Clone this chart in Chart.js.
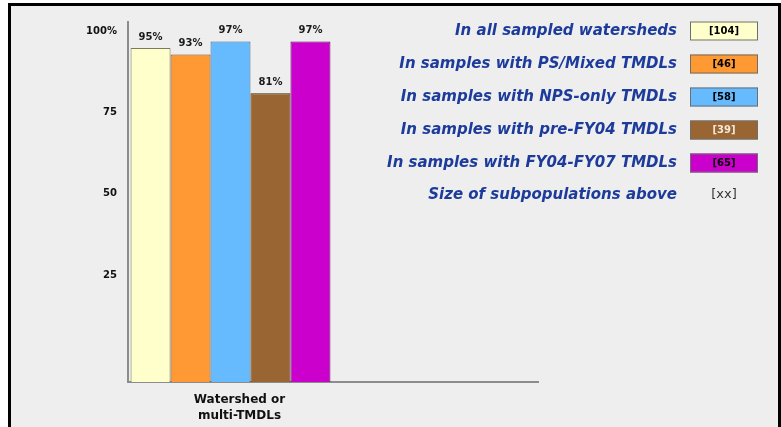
<!DOCTYPE html>
<html>
<head>
<meta charset="utf-8">
<script src="https://cdn.jsdelivr.net/npm/chart.js@4.4.1/dist/chart.umd.min.js"></script>
<style>
  html, body { margin: 0; padding: 0; background: #fff; }
  #wrap { width: 781px; height: 427px; }
</style>
</head>
<body>
<div id="wrap"><canvas id="chart" width="781" height="427"></canvas></div>
<script>
// chart values
const categories = [['Watershed or', 'multi-TMDLs'], ''];
const seriesNames = [
  'In all sampled watersheds',
  'In samples with PS/Mixed TMDLs',
  'In samples with NPS-only TMDLs',
  'In samples with pre-FY04 TMDLs',
  'In samples with FY04-FY07 TMDLs'
];
const percentValues = [95, 93, 97, 81, 97];
const sampleSizes = [104, 46, 58, 39, 65];
const yTicks = [25, 50, 75, 100];
const sizeNote = 'Size of subpopulations above';

const fillColors = ['#FFFFCC', '#FF9933', '#66BBFF', '#996633', '#CC00CC'];
const edgeColors = ['#7a7a60', '#7a4a18', '#35658a', '#3e280e', '#550055'];
const sizeTextColors = ['#000', '#000', '#000', '#f3e6d8', '#000'];

const FONT = "'DejaVu Sans', Verdana, sans-serif";

const datasets = seriesNames.map((name, i) => ({
  label: name,
  data: [percentValues[i], null],
  backgroundColor: fillColors[i],
  borderColor: edgeColors[i],
  borderWidth: 1,
  base: -8,
  barPercentage: 1.0,
  categoryPercentage: 0.975
}));

// page frame: white strip on top, gray panel with a thick black border
const framePlugin = {
  id: 'frame',
  beforeDraw(chart) {
    const ctx = chart.ctx;
    ctx.save();
    ctx.fillStyle = '#ffffff';
    ctx.fillRect(0, 0, chart.width, chart.height);
    ctx.fillStyle = '#eeeeee';
    ctx.fillRect(8, 3, chart.width - 8, chart.height - 3);
    ctx.fillStyle = '#000000';
    ctx.fillRect(8, 3, 3, chart.height - 3);
    ctx.fillRect(8, 3, chart.width - 8, 3);
    ctx.fillRect(chart.width - 3, 3, 3, chart.height - 3);
    ctx.restore();
  }
};

// percent labels above every bar
const valueLabels = {
  id: 'valueLabels',
  afterDatasetsDraw(chart) {
    const ctx = chart.ctx;
    ctx.save();
    ctx.font = 'bold 10px ' + FONT;
    ctx.fillStyle = '#1a1a1a';
    ctx.textAlign = 'center';
    ctx.textBaseline = 'bottom';
    chart.data.datasets.forEach((ds, i) => {
      const bar = chart.getDatasetMeta(i).data[0];
      ctx.fillText(ds.data[0] + '%', bar.x, bar.y - 6);
    });
    ctx.restore();
  }
};

// legend at the right: series name, then a coloured box with the sample size
const sideLegend = {
  id: 'sideLegend',
  afterDraw(chart) {
    const ctx = chart.ctx;
    const textRight = 677;
    const boxLeft = 690, boxW = 68, boxH = 19;
    const rowTop = 31, rowGap = 33;
    ctx.save();
    ctx.textBaseline = 'middle';
    chart.data.datasets.forEach((ds, i) => {
      const y = rowTop + i * rowGap;
      ctx.font = 'italic bold 15px ' + FONT;
      ctx.fillStyle = '#1c3b9b';
      ctx.textAlign = 'right';
      ctx.fillText(ds.label, textRight, y);

      ctx.fillStyle = ds.backgroundColor;
      ctx.fillRect(boxLeft, y - boxH / 2, boxW, boxH);
      ctx.strokeStyle = '#6e6e6e';
      ctx.lineWidth = 1;
      ctx.strokeRect(boxLeft + 0.5, y - boxH / 2 + 0.5, boxW - 1, boxH - 1);

      ctx.font = 'bold 10px ' + FONT;
      ctx.fillStyle = sizeTextColors[i];
      ctx.textAlign = 'center';
      ctx.fillText('[' + sampleSizes[i] + ']', boxLeft + boxW / 2, y);
    });
    const yLast = rowTop + seriesNames.length * rowGap - 1;
    ctx.font = 'italic bold 15px ' + FONT;
    ctx.fillStyle = '#1c3b9b';
    ctx.textAlign = 'right';
    ctx.fillText(sizeNote, textRight, yLast);
    ctx.font = '13px ' + FONT;
    ctx.fillStyle = '#333';
    ctx.textAlign = 'center';
    ctx.fillText('[xx]', boxLeft + boxW / 2, yLast);
    ctx.restore();
  }
};

new Chart(document.getElementById('chart'), {
  type: 'bar',
  data: { labels: categories, datasets: datasets },
  options: {
    responsive: false,
    animation: false,
    layout: { padding: { top: 22, right: 243, bottom: 0, left: 0 } },
    plugins: {
      legend: { display: false },
      tooltip: { enabled: false }
    },
    scales: {
      x: {
        grid: { display: false },
        border: { color: '#8c8c8c', width: 2 },
        ticks: {
          color: '#111',
          font: { family: FONT, size: 12, weight: 'bold', lineHeight: 1.35 },
          padding: 2,
          labelOffset: 9,
          maxRotation: 0
        },
        afterFit(scale) { scale.height = 45; }
      },
      y: {
        min: -8,
        max: 103,
        grid: { display: false },
        border: { color: '#8c8c8c', width: 2 },
        afterBuildTicks(scale) {
          scale.ticks = yTicks.map(v => ({ value: v }));
        },
        ticks: {
          color: '#111',
          font: { family: FONT, size: 10, weight: 'bold' },
          padding: 3,
          callback: v => (v === 100 ? '100%' : String(v))
        },
        afterFit(scale) { scale.width = 128; }
      }
    }
  },
  plugins: [framePlugin, valueLabels, sideLegend]
});
</script>
</body>
</html>
